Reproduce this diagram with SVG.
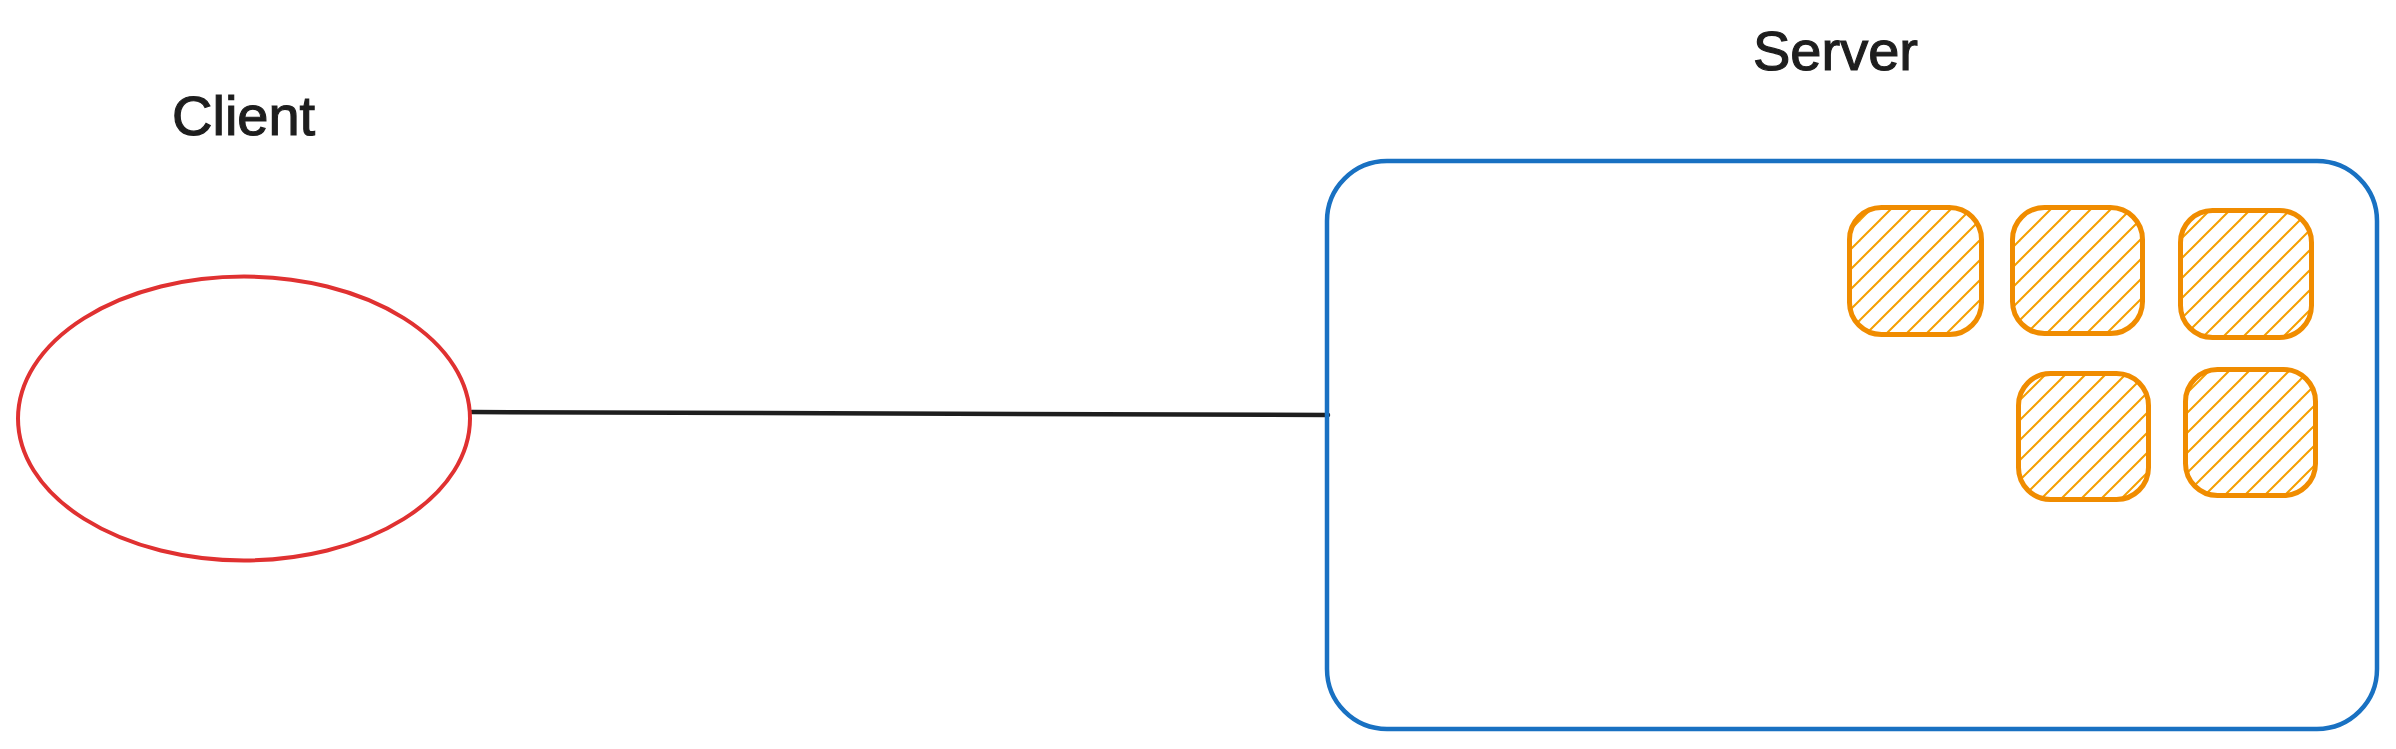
<svg xmlns="http://www.w3.org/2000/svg" width="2396" height="749" viewBox="0 0 2396 749">
  <style>
    .label { font-family: "Liberation Sans", Arial, sans-serif; font-size: 56px; fill: #1e1e1e; stroke: #1e1e1e; stroke-width: 1.2; }
    .box { fill: url(#hatch); stroke: #f08c00; stroke-width: 5; }
  </style>
  <defs>
    <pattern id="hatch" patternUnits="userSpaceOnUse" width="20" height="20">
      <g stroke="#f59f00" stroke-width="2" stroke-linecap="round">
        <line x1="0" y1="20" x2="20" y2="0"/>
        <line x1="-5" y1="5" x2="5" y2="-5"/>
        <line x1="15" y1="25" x2="25" y2="15"/>
      </g>
    </pattern>
  </defs>
  <rect width="2396" height="749" fill="#ffffff"/>

  <g id="connectors">
    <line x1="472" y1="412" x2="1328" y2="415" stroke="#1e1e1e" stroke-width="4.5" stroke-linecap="round"/>
  </g>

  <g id="client">
    <ellipse cx="244" cy="418.5" rx="226" ry="142" fill="none" stroke="#e03131" stroke-width="4"/>
    <text class="label" x="172" y="135">Client</text>
  </g>

  <g id="server">
    <rect x="1327" y="161" width="1050" height="568" rx="60" ry="60" fill="none" stroke="#1971c2" stroke-width="4.5"/>
    <text class="label" x="1753" y="70">Server</text>
  </g>

  <g id="worker1"><rect class="box" x="1849.5" y="207.5" width="132" height="127" rx="32"/></g>
  <g id="worker2"><rect class="box" x="2012.5" y="207.5" width="130" height="126" rx="32"/></g>
  <g id="worker3"><rect class="box" x="2180.5" y="210.5" width="131" height="127" rx="32"/></g>
  <g id="worker4"><rect class="box" x="2018.5" y="373.5" width="130" height="126" rx="32"/></g>
  <g id="worker5"><rect class="box" x="2185.5" y="369.5" width="130" height="126" rx="32"/></g>
</svg>
